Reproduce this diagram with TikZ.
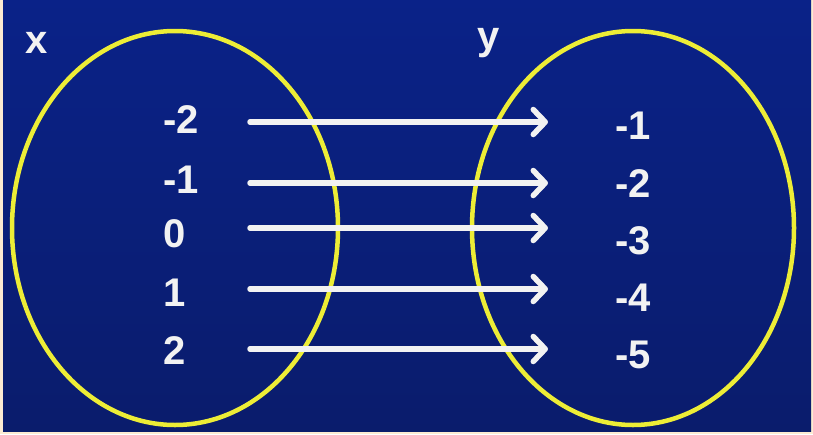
\documentclass[tikz,border=0pt]{standalone}
\usepackage{fontspec}
\setmainfont{Liberation Sans}
\usetikzlibrary{shapes.geometric,arrows.meta}
\definecolor{navytop}{HTML}{0A2288}
\definecolor{navybot}{HTML}{0A1C6C}
\definecolor{cream}{HTML}{FCEBD2}
\definecolor{ringyellow}{HTML}{EDED36}
\definecolor{chalk}{HTML}{F2F2F2}
\begin{document}
\begin{tikzpicture}[x=1pt,y=-1pt,
  ring/.style={draw=ringyellow,line width=4.5pt,ellipse,inner sep=0pt},
  val/.style={text=chalk,font=\fontsize{40}{40}\bfseries\selectfont,inner sep=0pt},
  setname/.style={text=chalk,font=\fontsize{40}{40}\bfseries\selectfont,inner sep=0pt},
  maparrow/.style={draw=chalk,line width=5.5pt,line cap=round,
    -{Straight Barb[length=12pt,width=25pt,line cap=round,round]}}
]
\useasboundingbox (0,0) rectangle (813,434);
% frame and background
\fill[cream] (0,0) rectangle (813,434);
\shade[top color=navytop,bottom color=navybot] (3,0) rectangle (811,431);

% the two sets
\node[ring,minimum width=326pt,minimum height=394pt] (X) at (175,228) {};
\node[ring,minimum width=322pt,minimum height=394pt] (Y) at (633,228) {};

\node[setname] (xlab) at (37,43) {x};
\node[setname] (ylab) at (489,43) {y};

% domain values
\node[val] (x1) at (181,120) {-2};
\node[val] (x2) at (181,180) {-1};
\node[val] (x3) at (175,234) {0};
\node[val] (x4) at (175,293) {1};
\node[val] (x5) at (175,351) {2};

% range values
\node[val] (y1) at (633,126) {-1};
\node[val] (y2) at (633,184) {-2};
\node[val] (y3) at (633,241) {-3};
\node[val] (y4) at (633,298) {-4};
\node[val] (y5) at (633,355) {-5};

% arrow ends
\coordinate (s1) at (250,122); \coordinate (e1) at (548,122);
\coordinate (s2) at (250,183); \coordinate (e2) at (548,183);
\coordinate (s3) at (250,228); \coordinate (e3) at (548,228);
\coordinate (s4) at (250,289); \coordinate (e4) at (548,289);
\coordinate (s5) at (250,349); \coordinate (e5) at (548,349);

\foreach \i in {1,...,5} \draw[maparrow] (s\i) -- (e\i);
\end{tikzpicture}
\end{document}
